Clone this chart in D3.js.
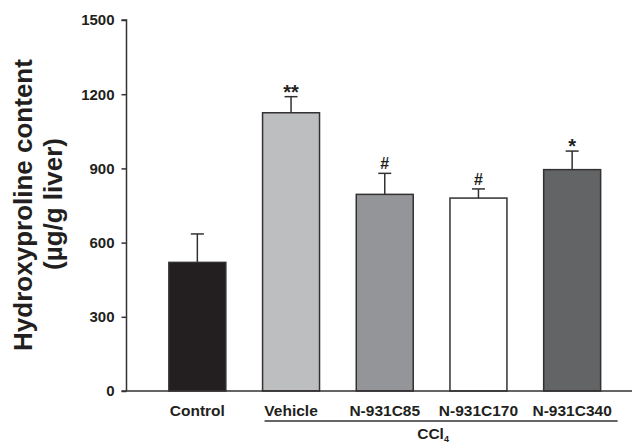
<!DOCTYPE html>
<html>
<head>
<meta charset="utf-8">
<script src="https://cdn.jsdelivr.net/npm/d3@7/dist/d3.min.js"></script>
<style>
  html, body { margin: 0; padding: 0; background: #fff; }
  svg { display: block; }
  text { font-family: "Liberation Sans", Arial, Helvetica, sans-serif; font-weight: bold; fill: #231f20; }
</style>
</head>
<body>
<script>
// Hepatic hydroxyproline content per group (mean ± SEM)
const groups = ["Control", "Vehicle", "N-931C85", "N-931C170", "N-931C340"];
const means = [520, 1125, 795, 780, 895];
const sems = [115, 65, 85, 37, 75];
const marks = ["", "**", "#", "#", "*"];
const fills = ["#231f20", "#bcbec0", "#939598", "#ffffff", "#636466"];
const yTicks = [0, 300, 600, 900, 1200, 1500];
const treatedGroups = ["Vehicle", "N-931C85", "N-931C170", "N-931C340"];

const W = 632, H = 444;
const svg = d3.select("body").append("svg").attr("width", W).attr("height", H);

const axisX = 126.5;
const y = d3.scaleLinear().domain([0, 1500]).range([391, 20]);
const x = d3.scaleBand().domain(groups).range([150.5, 619]).paddingInner(0.392).paddingOuter(0.196);

const ink = "#333132";

// y axis
const yAxis = svg.append("g")
  .attr("transform", `translate(${axisX},0)`)
  .call(d3.axisLeft(y).tickValues(yTicks).tickSize(5).tickPadding(7).tickFormat(d3.format("d")));
yAxis.select(".domain").attr("stroke", ink).attr("stroke-width", 1.5).attr("d", `M-5,${y(1500)}H0V${y(0)}`);
yAxis.selectAll(".tick line").attr("stroke", ink).attr("stroke-width", 1.5);
yAxis.selectAll(".tick text").attr("font-size", 15).attr("font-family", "Liberation Sans, Arial, sans-serif").attr("font-weight", "bold").attr("fill", "#231f20");

// bars
svg.append("g").selectAll("rect").data(groups).join("rect")
  .attr("x", d => x(d))
  .attr("y", (d, i) => y(means[i]))
  .attr("width", x.bandwidth())
  .attr("height", (d, i) => y(0) - y(means[i]))
  .attr("fill", (d, i) => fills[i])
  .attr("stroke", ink)
  .attr("stroke-width", 1.5);

// upper error bars
const eb = svg.append("g").attr("stroke", ink).attr("stroke-width", 1.5);
groups.forEach((g, i) => {
  const cx = x(g) + x.bandwidth() / 2;
  eb.append("line").attr("x1", cx).attr("x2", cx).attr("y1", y(means[i])).attr("y2", y(means[i] + sems[i]));
  eb.append("line").attr("x1", cx - 6.5).attr("x2", cx + 6.5).attr("y1", y(means[i] + sems[i])).attr("y2", y(means[i] + sems[i]));
});

// significance marks
svg.append("g").selectAll("text").data(groups).join("text")
  .attr("x", d => x(d) + x.bandwidth() / 2)
  .attr("y", (d, i) => y(means[i] + sems[i]) - (marks[i].includes("*") ? -2 : 4))
  .attr("text-anchor", "middle")
  .attr("font-size", (d, i) => marks[i].includes("*") ? 20 : 16)
  .text((d, i) => marks[i]);

// x baseline
svg.append("line").attr("x1", axisX - 5).attr("x2", W).attr("y1", y(0)).attr("y2", y(0))
  .attr("stroke", ink).attr("stroke-width", 1.5);

// category labels
svg.append("g").selectAll("text").data(groups).join("text")
  .attr("x", d => x(d) + x.bandwidth() / 2)
  .attr("y", 416)
  .attr("text-anchor", "middle")
  .attr("font-size", 15.5)
  .text(d => d);

// CCl4 bracket under the treated groups
const bx0 = x(treatedGroups[0]) + 2, bx1 = x(treatedGroups[treatedGroups.length - 1]) + x.bandwidth() + 17;
svg.append("line").attr("x1", bx0).attr("x2", bx1).attr("y1", 421).attr("y2", 421)
  .attr("stroke", ink).attr("stroke-width", 1.3);
const ccl = svg.append("text").attr("x", (bx0 + bx1) / 2 - 8).attr("y", 439).attr("text-anchor", "middle").attr("font-size", 15.5);
ccl.append("tspan").text("CCl");
ccl.append("tspan").attr("font-size", 9).attr("dy", 3).text("4");

// y axis title
const title = svg.append("g");
title.append("text")
  .attr("transform", "translate(32,205) rotate(-90)")
  .attr("text-anchor", "middle")
  .attr("font-size", 26)
  .text("Hydroxyproline content");
title.append("text")
  .attr("transform", "translate(62,204) rotate(-90)")
  .attr("text-anchor", "middle")
  .attr("font-size", 26)
  .text("(µg/g liver)");
</script>
</body>
</html>
